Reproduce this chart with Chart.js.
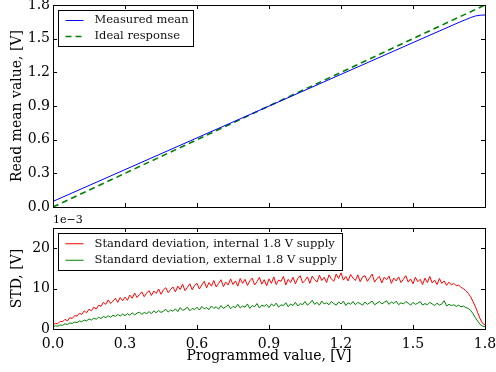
<!DOCTYPE html>
<html>
<head>
<meta charset="utf-8">
<script src="https://cdn.jsdelivr.net/npm/chart.js@4/dist/chart.umd.min.js"></script>
<style>
  html, body { margin: 0; padding: 0; background: #fff; }
  #wrap { position: relative; width: 496px; height: 372px; }
  canvas { position: absolute; left: 0; }
  #top { top: 0; }
  #bottom { top: 212px; }
</style>
</head>
<body>
<div id="wrap">
  <canvas id="top" width="496" height="212"></canvas>
  <canvas id="bottom" width="496" height="160"></canvas>
</div>
<script>
// ticks
const xTicks = [0, 0.3, 0.6, 0.9, 1.2, 1.5, 1.8];
const meanTicks = [0, 0.3, 0.6, 0.9, 1.2, 1.5, 1.8];
const stdTicks = [0, 10, 20];

// top plot: mean value read back vs programmed value
const meanX = [0, 0.3, 0.6, 0.9, 1.2, 1.5, 1.7, 1.72, 1.74, 1.76, 1.78, 1.8];
const measuredMean = [0.05, 0.333, 0.616, 0.899, 1.182, 1.465, 1.653, 1.670, 1.688, 1.702, 1.709, 1.711];
const idealX = [0, 1.8];
const idealResponse = [0, 1.8];

// bottom plot: standard deviation (x1e-3 V), one value every 0.01 V programmed
const stdStep = 0.01;
const stdInternal = [
  1.0, 1.4, 1.3, 1.9, 1.8, 2.4, 2.0, 2.8, 2.6, 3.3,
  3.2, 3.9, 3.6, 4.5, 4.0, 4.9, 4.5, 5.4, 4.9, 5.9,
  5.6, 6.6, 6.1, 7.2, 6.3, 6.9, 7.6, 6.6, 7.8, 7.0,
  7.9, 7.1, 8.4, 7.6, 8.9, 7.8, 8.5, 9.2, 8.0, 8.9,
  9.5, 8.3, 9.4, 8.8, 9.9, 8.6, 9.7, 10.2, 9.0, 9.8,
  10.4, 9.2, 10.6, 9.8, 11.1, 9.5, 10.3, 11.2, 9.7, 10.8,
  11.3, 9.9, 10.9, 11.8, 10.2, 11.5, 10.6, 12.0, 10.4, 11.3,
  12.2, 10.5, 11.6, 10.9, 12.4, 11.0, 11.9, 10.6, 12.5, 11.3,
  12.3, 10.8, 11.9, 12.6, 10.9, 11.7, 12.8, 11.1, 12.2, 10.7,
  12.4, 11.3, 12.9, 11.0, 12.1, 11.8, 13.0, 10.9, 12.3, 11.5,
  12.8, 11.2, 12.5, 13.2, 11.4, 12.0, 12.9, 11.3, 13.1, 12.2,
  11.6, 13.3, 12.0, 12.8, 11.5, 13.4, 12.4, 11.8, 13.6, 12.5,
  13.9, 12.1, 13.0, 11.9, 13.5, 12.6, 12.0, 13.4, 11.7, 12.9,
  13.2, 11.8, 12.7, 13.6, 11.6, 12.5, 13.0, 11.4, 12.8, 12.2,
  13.1, 11.3, 12.6, 11.9, 12.9, 11.5, 12.3, 13.2, 11.6, 12.4,
  11.2, 12.8, 11.7, 12.3, 11.0, 12.6, 11.5, 13.0, 11.4, 12.1,
  11.0, 12.5, 11.3, 11.9, 10.8, 11.6, 10.9, 11.3, 10.7, 10.9,
  10.3, 10.0, 9.5, 8.8, 8.0, 6.8, 5.5, 4.0, 2.5, 1.4, 1.0
];
const stdExternal = [
  0.5, 0.8, 0.7, 1.0, 0.9, 1.3, 1.1, 1.5, 1.4, 1.7,
  1.6, 2.0, 1.8, 2.2, 2.0, 2.5, 2.2, 2.7, 2.4, 2.9,
  2.6, 3.1, 2.8, 3.3, 2.9, 3.4, 3.1, 3.6, 3.2, 3.7,
  3.3, 3.8, 3.4, 4.0, 3.5, 3.9, 4.2, 3.6, 4.1, 3.8,
  4.3, 3.8, 4.5, 4.0, 4.6, 4.1, 4.4, 4.9, 4.2, 4.7,
  4.4, 5.0, 4.3, 5.3, 4.6, 4.9, 5.4, 4.5, 5.1, 4.8,
  5.4, 4.7, 5.6, 5.0, 5.3, 4.8, 5.7, 5.1, 5.5, 4.9,
  5.8, 5.1, 5.5, 6.0, 5.0, 5.6, 5.3, 6.1, 5.2, 5.7,
  5.4, 6.2, 5.1, 5.8, 5.5, 6.3, 5.2, 5.9, 5.6, 6.1,
  5.3, 6.2, 5.7, 6.4, 5.4, 6.0, 5.8, 6.5, 5.5, 6.2,
  5.8, 6.6, 5.7, 6.3, 6.0, 6.8, 5.9, 6.4, 7.1, 6.1,
  6.6, 5.9, 6.9, 6.2, 6.5, 6.0, 6.8, 6.3, 5.9, 6.7,
  6.2, 6.9, 5.8, 6.5, 6.1, 6.8, 6.0, 6.6, 6.3, 5.9,
  6.7, 6.1, 6.5, 6.9, 6.0, 6.4, 6.8, 6.2, 6.6, 7.0,
  6.1, 6.7, 6.3, 6.9, 6.0, 6.5, 6.2, 6.8, 6.4, 5.9,
  6.6, 6.1, 6.4, 6.8, 5.9, 6.3, 6.0, 6.6, 6.2, 5.8,
  6.4, 5.9, 6.2, 7.0, 5.7, 6.1, 5.8, 6.0, 5.6, 5.9,
  5.5, 5.7, 5.3, 5.1, 4.6, 3.8, 2.8, 1.9, 1.1, 0.7, 0.6
];

const FONT = "'DejaVu Serif', serif";

function toPoints(xs, ys) {
    return ys.map((y, i) => ({ x: xs[i], y: y }));
}
function stepPoints(ys) {
    return ys.map((y, i) => ({ x: +(i * stdStep).toFixed(2), y: y }));
}

// matplotlib-like frame, inward ticks on four sides, boxed legend
const mplFrame = {
    id: 'mplFrame',
    afterDatasetsDraw(chart) {
        const ctx = chart.ctx;
        const a = chart.chartArea;
        const opts = chart.options.plugins.mplFrame;
        ctx.save();
        ctx.strokeStyle = '#000';
        ctx.lineWidth = 1;
        const xs = chart.scales.x, ys = chart.scales.y;
        ctx.beginPath();
        for (const t of xs.ticks) {
            const px = Math.round(xs.getPixelForValue(t.value)) + 0.5;
            ctx.moveTo(px, a.bottom); ctx.lineTo(px, a.bottom - 4);
            ctx.moveTo(px, a.top); ctx.lineTo(px, a.top + 4);
        }
        for (const t of ys.ticks) {
            const py = Math.round(ys.getPixelForValue(t.value)) + 0.5;
            ctx.moveTo(a.left, py); ctx.lineTo(a.left + 4, py);
            ctx.moveTo(a.right, py); ctx.lineTo(a.right - 4, py);
        }
        ctx.stroke();
        ctx.strokeRect(Math.round(a.left) + 0.5, Math.round(a.top) + 0.5,
                       Math.round(a.right - a.left), Math.round(a.bottom - a.top));

        // legend
        ctx.font = '11.5px ' + FONT;
        const sets = chart.data.datasets;
        let maxW = 0;
        sets.forEach(d => { maxW = Math.max(maxW, ctx.measureText(d.label).width); });
        const bx = Math.round(a.left + opts.legendDx) + 0.5;
        const by = Math.round(a.top + opts.legendDy) + 0.5;
        const bw = Math.round(36 + maxW + 5);
        const bh = opts.rowH * sets.length + 4;
        ctx.fillStyle = '#fff';
        ctx.fillRect(bx, by, bw, bh);
        ctx.strokeRect(bx, by, bw, bh);
        sets.forEach((d, i) => {
            const cy = by + 2 + opts.rowH * (i + 0.5);
            ctx.save();
            ctx.strokeStyle = d.borderColor;
            ctx.lineWidth = d.borderWidth;
            ctx.setLineDash(d.borderDash || []);
            ctx.beginPath();
            ctx.moveTo(bx + 7, cy); ctx.lineTo(bx + 25, cy);
            ctx.stroke();
            ctx.restore();
            ctx.fillStyle = '#111';
            ctx.textBaseline = 'middle';
            ctx.fillText(d.label, bx + 36, cy);
        });

        if (opts.offsetText) {
            ctx.font = '11px ' + FONT;
            ctx.fillStyle = '#000';
            ctx.textBaseline = 'bottom';
            ctx.fillText(opts.offsetText, a.left, a.top - 2);
        }
        ctx.restore();
    }
};

function fixWidth(w) {
    return s => { s.width = w; s.paddingTop = 0; s.paddingBottom = 0; };
}
function fixHeight(h) {
    return s => { s.height = h; s.paddingLeft = 0; s.paddingRight = 0; };
}

new Chart(document.getElementById('top'), {
    type: 'line',
    data: {
        datasets: [{
            label: 'Measured mean',
            data: toPoints(meanX, measuredMean),
            borderColor: '#0000ff',
            borderWidth: 1,
            pointRadius: 0,
        }, {
            label: 'Ideal response',
            data: toPoints(idealX, idealResponse),
            borderColor: '#008000',
            borderWidth: 1.6,
            borderDash: [6, 4],
            pointRadius: 0,
        }]
    },
    options: {
        responsive: false,
        animation: false,
        layout: { padding: { left: 0, right: 11, top: 5, bottom: 0 } },
        plugins: {
            legend: { display: false },
            tooltip: { enabled: false },
            mplFrame: { legendDx: 5, legendDy: 5, rowH: 16 },
        },
        scales: {
            x: {
                type: 'linear', min: 0, max: 1.8,
                afterBuildTicks: s => { s.ticks = xTicks.map(v => ({ value: v })); },
                afterFit: fixHeight(5),
                grid: { display: false },
                border: { display: false },
                ticks: { display: false },
            },
            y: {
                type: 'linear', min: 0, max: 1.8,
                afterBuildTicks: s => { s.ticks = meanTicks.map(v => ({ value: v })); },
                afterFit: fixWidth(53),
                grid: { display: false, drawTicks: false },
                border: { display: false },
                ticks: {
                    color: '#000', padding: 3,
                    font: { family: FONT, size: 14 },
                    callback: v => v.toFixed(1),
                },
                title: {
                    display: true, text: 'Read mean value, [V]', color: '#000',
                    font: { family: FONT, size: 14 },
                    padding: { top: 9, bottom: 0 },
                },
            },
        },
    },
    plugins: [mplFrame],
});

new Chart(document.getElementById('bottom'), {
    type: 'line',
    data: {
        datasets: [{
            label: 'Standard deviation, internal 1.8 V supply',
            data: stepPoints(stdInternal),
            borderColor: '#ff0000',
            borderWidth: 1,
            pointRadius: 0,
        }, {
            label: 'Standard deviation, external 1.8 V supply',
            data: stepPoints(stdExternal),
            borderColor: '#008000',
            borderWidth: 1,
            pointRadius: 0,
        }]
    },
    options: {
        responsive: false,
        animation: false,
        layout: { padding: { left: 0, right: 11, top: 16, bottom: 0 } },
        plugins: {
            legend: { display: false },
            tooltip: { enabled: false },
            mplFrame: { legendDx: 5, legendDy: 5, rowH: 16.5, offsetText: '1e\u22123' },
        },
        scales: {
            x: {
                type: 'linear', min: 0, max: 1.8,
                afterBuildTicks: s => { s.ticks = xTicks.map(v => ({ value: v })); },
                afterFit: fixHeight(43),
                grid: { display: false, drawTicks: false },
                border: { display: false },
                ticks: {
                    color: '#000', padding: 7, maxRotation: 0,
                    font: { family: FONT, size: 14 },
                    callback: v => v.toFixed(1),
                },
                title: {
                    display: true, text: 'Programmed value, [V]', color: '#000',
                    font: { family: FONT, size: 14 },
                    padding: { top: 0, bottom: 7 },
                },
            },
            y: {
                type: 'linear', min: 0, max: 25,
                afterBuildTicks: s => { s.ticks = stdTicks.map(v => ({ value: v })); },
                afterFit: fixWidth(53),
                grid: { display: false, drawTicks: false },
                border: { display: false },
                ticks: {
                    color: '#000', padding: 3,
                    font: { family: FONT, size: 14 },
                },
                title: {
                    display: true, text: 'STD, [V]', color: '#000',
                    font: { family: FONT, size: 14 },
                    padding: { top: 9, bottom: 0 },
                },
            },
        },
    },
    plugins: [mplFrame],
});
</script>
</body>
</html>
